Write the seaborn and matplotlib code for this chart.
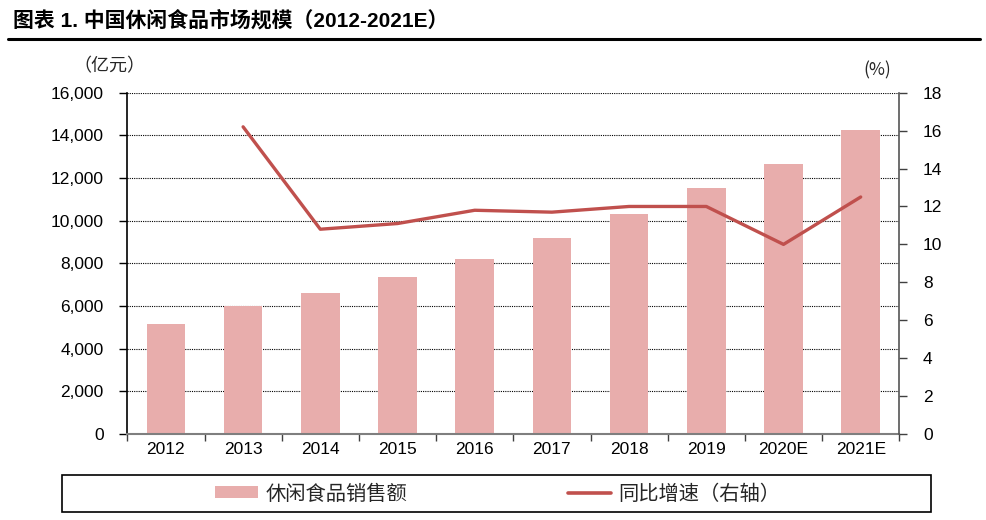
import numpy as np
import pandas as pd
import matplotlib
matplotlib.use("Agg")
import matplotlib.pyplot as plt
import seaborn as sns
from matplotlib.patches import Patch, Rectangle
from matplotlib.lines import Line2D
from matplotlib.ticker import FuncFormatter, FixedLocator
from matplotlib import font_manager

# ---- data ----
years = ["2012", "2013", "2014", "2015", "2016", "2017", "2018", "2019", "2020E", "2021E"]
sales = [5140, 5990, 6590, 7340, 8220, 9190, 10300, 11530, 12680, 14260]
growth = [np.nan, 16.2, 10.8, 11.1, 11.8, 11.7, 12.0, 12.0, 10.0, 12.5]

title_text = "图表 1. 中国休闲食品市场规模（2012-2021E）"
left_unit = "（亿元）"
right_unit = "(%)"
bar_label = "休闲食品销售额"
line_label = "同比增速（右轴）"

bar_color = "#E8ADAC"
line_color = "#C0504D"

sns.set_theme(style="white")
plt.rcParams['font.family'] = ['Liberation Sans', 'Noto Sans CJK SC', 'DejaVu Sans']
plt.rcParams['axes.unicode_minus'] = False

names = {f.name for f in font_manager.fontManager.ttflist}
if "Liberation Sans Narrow" in names:
    tick_family, tick_size = "Liberation Sans Narrow", 14
else:
    tick_family, tick_size = "Liberation Sans", 12.5

W, H = 986, 520
fig = plt.figure(figsize=(W / 100, H / 100), dpi=100)
ax_l, ax_r, ax_t, ax_b = 127.3, 899.3, 92.7, 434.0
ax = fig.add_axes([ax_l / W, 1 - ax_b / H, (ax_r - ax_l) / W, (ax_b - ax_t) / H])

df = pd.DataFrame({"year": years, "sales": sales, "growth": growth})
df["pos"] = np.arange(len(df))

sns.barplot(data=df, x="year", y="sales", color=bar_color, saturation=1,
            width=0.5, linewidth=0, ax=ax, zorder=2)
ax.set_xlim(-0.5, len(years) - 0.5)
ax.set_ylim(0, 16000)
ax.set_yticks(np.arange(0, 16001, 2000))
ax.yaxis.set_major_formatter(FuncFormatter(lambda v, p: f"{int(v):,}"))
ax.yaxis.grid(True, linestyle=(0, (1, 1)), color="black", linewidth=0.8, zorder=0)
ax.set_axisbelow(True)
ax.set_xlabel("")
ax.set_ylabel("")

ax.xaxis.set_minor_locator(FixedLocator(np.arange(-0.5, len(years), 1.0)))
ax.tick_params(axis="x", which="major", length=0, pad=6, colors="black")
ax.tick_params(axis="x", which="minor", bottom=True, length=5, width=1, color="#404040", direction="out")
ax.tick_params(axis="y", left=True, length=6, width=1, color="black", direction="out",
               pad=11, labelcolor="black")
for lab in ax.get_xticklabels() + ax.get_yticklabels():
    lab.set_family(tick_family)
    lab.set_fontsize(tick_size)

for s in ["top", "right"]:
    ax.spines[s].set_visible(False)
ax.spines["left"].set_color("black")
ax.spines["left"].set_linewidth(1.2)
ax.spines["bottom"].set_color("#7f7f7f")
ax.spines["bottom"].set_linewidth(1.5)

ax2 = ax.twinx()
sns.lineplot(data=df, x="pos", y="growth", color=line_color, linewidth=2.4, ax=ax2)
ax2.set_ylim(0, 18)
ax2.set_yticks(np.arange(0, 19, 2))
ax2.set_xlim(-0.5, len(years) - 0.5)
ax2.set_ylabel("")
ax2.set_xlabel("")
ax2.tick_params(axis="y", right=True, length=6, width=1, color="#404040", direction="out",
                pad=11, labelcolor="black")
for lab in ax2.get_yticklabels():
    lab.set_family(tick_family)
    lab.set_fontsize(tick_size)
for s in ["top", "left", "bottom"]:
    ax2.spines[s].set_visible(False)
ax2.spines["right"].set_color("#555555")
ax2.spines["right"].set_linewidth(1.2)

# title and rule
fig.text(13 / W, 1 - 20 / H, title_text, fontsize=15, fontweight="bold",
         ha="left", va="center", color="black")
fig.add_artist(Line2D([8 / W, 980 / W], [1 - 38.5 / H] * 2, color="black", lw=2.2,
                      transform=fig.transFigure))

# unit labels
fig.text(109 / W, 1 - 66 / H, left_unit, fontsize=13, ha="center", va="center",
         family=["Noto Sans CJK SC"])
fig.text(877 / W, 1 - 70 / H, right_unit, fontsize=12.5, ha="center", va="center",
         family=["Noto Sans CJK SC"])

# legend box
fig.add_artist(Rectangle((62 / W, 1 - 511.5 / H), (930.7 - 62) / W, (511.5 - 475) / H,
                         fill=False, edgecolor="black", lw=1.2, transform=fig.transFigure))
handles = [Patch(facecolor=bar_color, edgecolor="none", label=bar_label),
           Line2D([0], [0], color=line_color, lw=2.6, label=line_label)]
fig.legend(handles=handles, loc="center", bbox_to_anchor=(498 / W, 1 - 494 / H),
           ncol=2, frameon=False, prop={"family": "Noto Sans CJK SC", "size": 14.6},
           handlelength=2.1, handleheight=0.55, handletextpad=0.4, columnspacing=7.9,
           borderpad=0)

fig.savefig("out.png", dpi=100)
